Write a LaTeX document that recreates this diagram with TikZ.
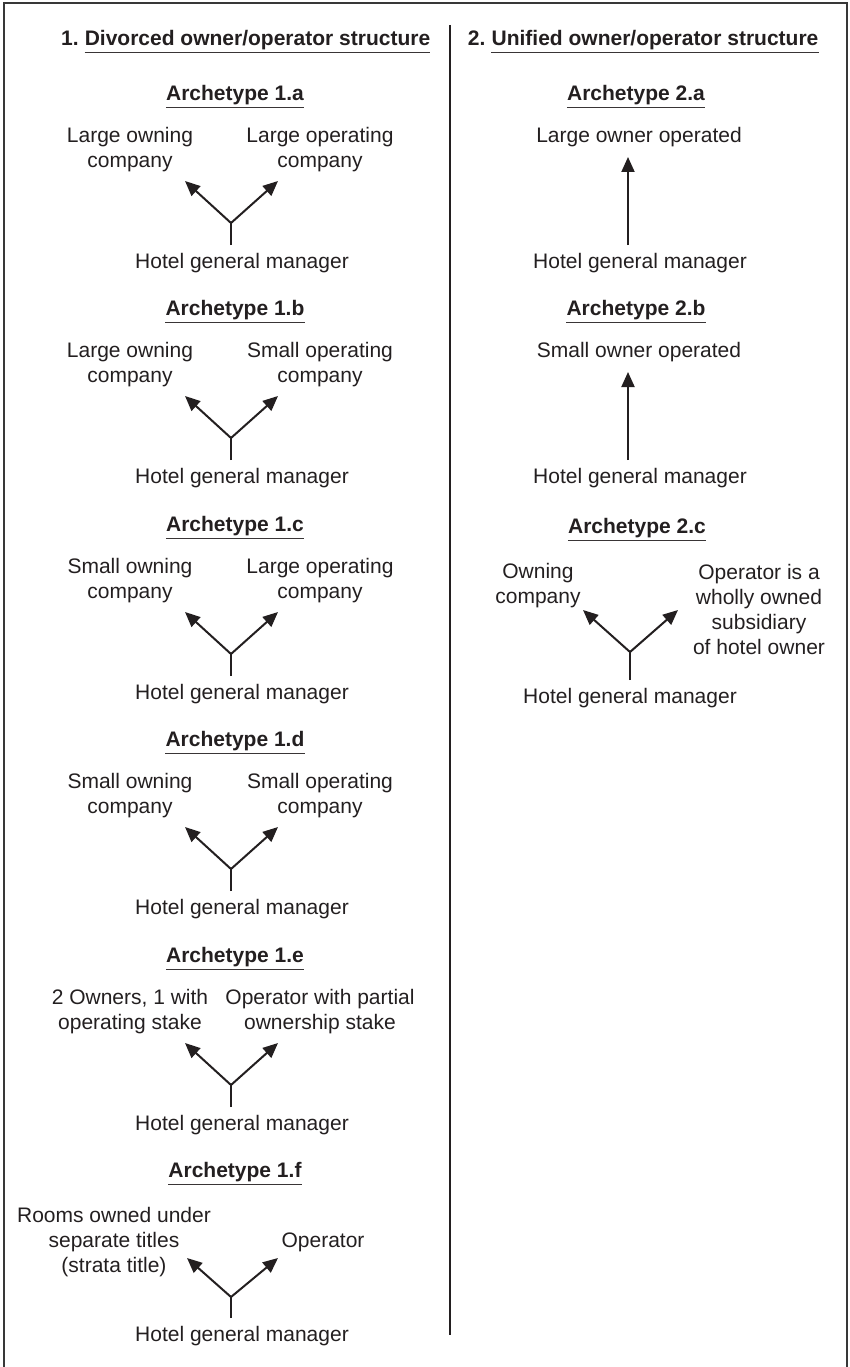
\documentclass[tikz,border=0pt]{standalone}
\usepackage{fontspec}
\setmainfont{Liberation Sans}
\usetikzlibrary{arrows.meta,positioning}
\definecolor{ink}{HTML}{231F20}
\tikzstyle{party}=[align=center,inner sep=0pt,text=ink,font=\fontsize{21}{25}\selectfont]
\tikzstyle{archname}=[party,font=\fontsize{21}{25}\selectfont\bfseries,inner ysep=2.5pt]
\tikzstyle{manager}=[party,inner ysep=8pt]
\tikzstyle{uline}=[draw=ink!90,line width=1.6pt]
\tikzstyle{flow}=[draw=ink,line width=2pt,-{Triangle[length=15pt,width=13pt]}]
\tikzstyle{trunk}=[draw=ink,line width=2pt]

\begin{document}
\begin{tikzpicture}[x=1pt,y=-1pt]
    \useasboundingbox (0,0) rectangle (850,1367);
    % frame and column divider
    \draw[line width=2.6pt,black!78] (4,1380) -- (4,3) -- (847,3) -- (847,1380);
    \draw[line width=2pt,ink] (450,25) -- (450,1335);

    % column headings
    \node[archname] (head1) at (257.5,40) {Divorced owner/operator structure};
    \node[archname,base left=5.8pt of head1] (num1) {1.};
    \draw[uline] (head1.south west) -- (head1.south east);
    \node[archname] (head2) at (655,40) {Unified owner/operator structure};
    \node[archname,base left=5.8pt of head2] (num2) {2.};
    \draw[uline] (head2.south west) -- (head2.south east);

    % divorced structures
    \foreach \y/\tag/\owner/\operator in {
        95/a/{Large owning\\company}/{Large operating\\company},
        310/b/{Large owning\\company}/{Small operating\\company},
        526/c/{Small owning\\company}/{Large operating\\company},
        741/d/{Small owning\\company}/{Small operating\\company},
        957/e/{2 Owners, 1 with\\operating stake}/{Operator with partial\\ownership stake}} {
        \node[archname] (arch1\tag) at (235,\y) {Archetype 1.\tag};
        \draw[uline] (arch1\tag.south west) -- (arch1\tag.south east);
        \node[party] (own1\tag) at (130,\y+54.5) {\owner};
        \node[party] (op1\tag) at (320,\y+54.5) {\operator};
        \coordinate (fork1\tag) at (231,\y+128);
        \coordinate (ownTip1\tag) at (185,\y+86);
        \coordinate (opTip1\tag) at (278,\y+86);
        \draw[flow] (fork1\tag) -- (ownTip1\tag);
        \draw[flow] (fork1\tag) -- (opTip1\tag);
        \node[manager] (gm1\tag) at (242,\y+168) {Hotel general manager};
        \draw[trunk] (gm1\tag.north -| fork1\tag) -- (fork1\tag);
    }
    \node[archname] (arch1f) at (235,1172) {Archetype 1.f};
    \draw[uline] (arch1f.south west) -- (arch1f.south east);
    \node[party] (own1f) at (114,1242) {Rooms owned under\\separate titles\\(strata title)};
    \node[party] (op1f) at (323,1242) {Operator};
    \coordinate (fork1f) at (231,1297);
    \coordinate (ownTip1f) at (187,1258);
    \coordinate (opTip1f) at (278,1258);
    \draw[flow] (fork1f) -- (ownTip1f);
    \draw[flow] (fork1f) -- (opTip1f);
    \node[manager] (gm1f) at (242,1336) {Hotel general manager};
    \draw[trunk] (gm1f.north -| fork1f) -- (fork1f);

    % unified structures
    \foreach \y/\tag/\size in {95/a/Large, 310/b/Small} {
        \node[archname] (arch2\tag) at (636,\y) {Archetype 2.\tag};
        \draw[uline] (arch2\tag.south west) -- (arch2\tag.south east);
        \node[party] (own2\tag) at (639,\y+42) {\size\ owner operated};
        \coordinate (tip2\tag) at (628,\y+62);
        \node[manager] (gm2\tag) at (640,\y+168) {Hotel general manager};
        \draw[flow] (gm2\tag.north -| tip2\tag) -- (tip2\tag);
    }
    \node[archname] (arch2c) at (637,528) {Archetype 2.c};
    \draw[uline] (arch2c.south west) -- (arch2c.south east);
    \node[party] (own2c) at (538,585.5) {Owning\\company};
    \node[party] (op2c) at (759,609) {Operator is a\\wholly owned\\subsidiary\\of hotel owner};
    \coordinate (fork2c) at (630,652);
    \coordinate (ownTip2c) at (583,610);
    \coordinate (opTip2c) at (678,610);
    \draw[flow] (fork2c) -- (ownTip2c);
    \draw[flow] (fork2c) -- (opTip2c);
    \node[manager] (gm2c) at (630,698) {Hotel general manager};
    \draw[trunk] (gm2c.north -| fork2c) -- (fork2c);
\end{tikzpicture}
\end{document}
